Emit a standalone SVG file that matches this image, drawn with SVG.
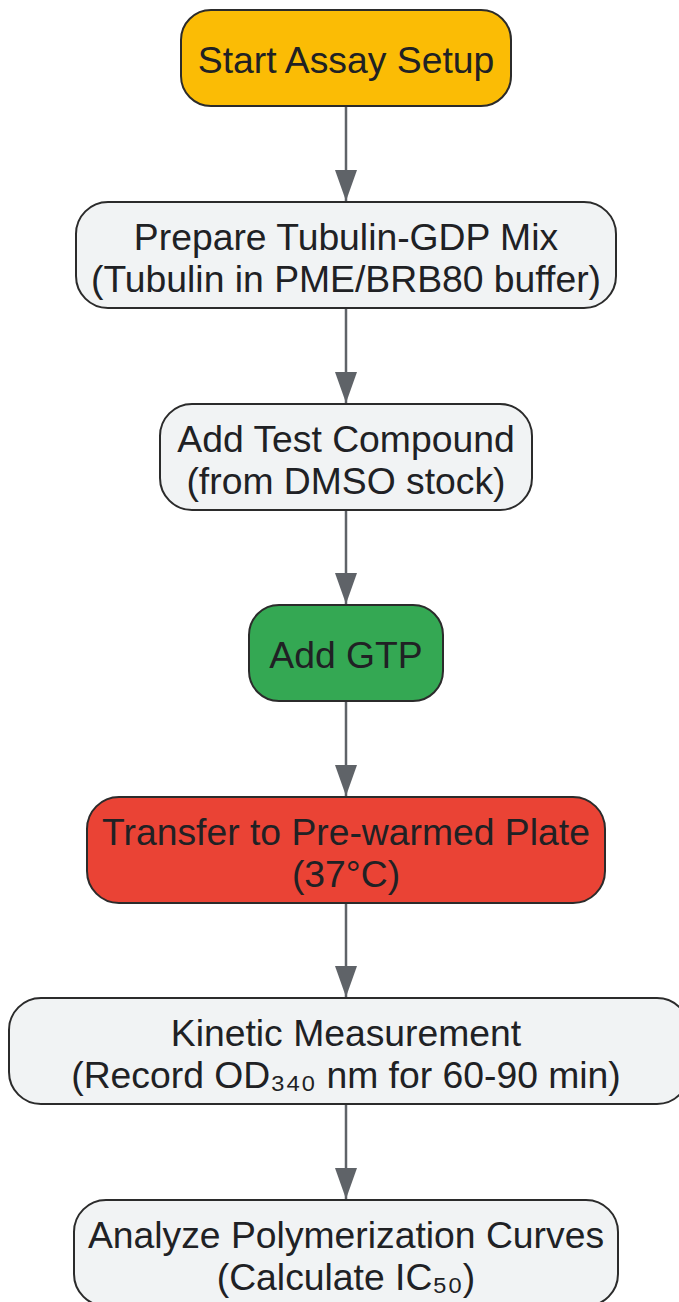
<svg xmlns="http://www.w3.org/2000/svg" width="679" height="1302" viewBox="0 0 679 1302">
<style>
.n{stroke:#2b2b2b;stroke-width:2}
.g{fill:#F1F3F4}
.t{font-family:"Liberation Sans",Arial,sans-serif;font-size:37.3px;fill:#202124;text-anchor:middle}
.c{stroke:#5f6368;stroke-width:2.5;fill:none}
</style>
<defs>
<marker id="ah" markerUnits="userSpaceOnUse" markerWidth="32" markerHeight="22" refX="31" refY="11" orient="auto">
<path d="M0,0 L31,11 L0,22 Z" fill="#5f6368"/>
</marker>
</defs>
<g id="connectors">
<line class="c" x1="346" y1="107" x2="346" y2="201" marker-end="url(#ah)"/>
<line class="c" x1="346" y1="309" x2="346" y2="403" marker-end="url(#ah)"/>
<line class="c" x1="346" y1="511" x2="346" y2="604" marker-end="url(#ah)"/>
<line class="c" x1="346" y1="702" x2="346" y2="796" marker-end="url(#ah)"/>
<line class="c" x1="346" y1="904" x2="346" y2="997" marker-end="url(#ah)"/>
<line class="c" x1="346" y1="1105" x2="346" y2="1199" marker-end="url(#ah)"/>
</g>
<g id="start">
<rect class="n" x="181" y="10" width="330" height="96" rx="30" fill="#FBBC05"/>
<text class="t" x="346" y="73">Start Assay Setup</text>
</g>
<g id="prepare">
<rect class="n g" x="76" y="202" width="540" height="106" rx="32"/>
<text class="t" x="346" y="250">Prepare Tubulin-GDP Mix</text>
<text class="t" x="346" y="292">(Tubulin in PME/BRB80 buffer)</text>
</g>
<g id="compound">
<rect class="n g" x="160" y="404" width="372" height="106" rx="32"/>
<text class="t" x="346" y="452">Add Test Compound</text>
<text class="t" x="346" y="494">(from DMSO stock)</text>
</g>
<g id="gtp">
<rect class="n" x="249" y="605" width="194" height="96" rx="30" fill="#34A853"/>
<text class="t" x="346" y="668">Add GTP</text>
</g>
<g id="transfer">
<rect class="n" x="87" y="797" width="518" height="106" rx="32" fill="#EA4335"/>
<text class="t" x="346" y="845">Transfer to Pre-warmed Plate</text>
<text class="t" x="346" y="887">(37°C)</text>
</g>
<g id="kinetic">
<rect class="n g" x="9" y="998" width="680" height="106" rx="32"/>
<text class="t" x="346" y="1046">Kinetic Measurement</text>
<text class="t" x="346" y="1088">(Record OD₃₄₀ nm for 60-90 min)</text>
</g>
<g id="analyze">
<rect class="n g" x="74" y="1200" width="544" height="106" rx="32"/>
<text class="t" x="346" y="1248">Analyze Polymerization Curves</text>
<text class="t" x="346" y="1290">(Calculate IC₅₀)</text>
</g>
</svg>
